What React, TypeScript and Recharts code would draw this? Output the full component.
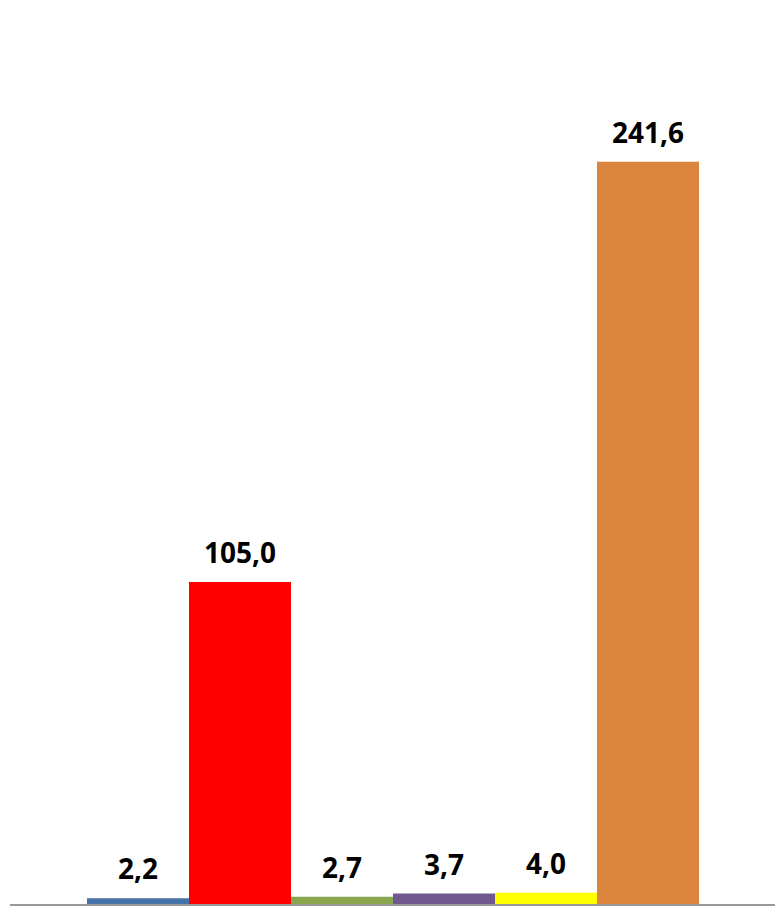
import React from 'react';
import { BarChart, Bar, XAxis, YAxis, Cell, LabelList } from 'recharts';

const categories = ['A', 'B', 'C', 'D', 'E', 'F'];
const values = [2.2, 105.0, 2.7, 3.7, 4.0, 241.6];
const colors = ['#4572A7', '#FF0000', '#89A54E', '#71588F', '#FFFF00', '#DB843D'];

const data = categories.map((c, i) => ({ name: c, value: values[i] }));

const fmt = (v: number) => v.toFixed(1).replace('.', ',');

const renderLabel = (props: any) => {
  const { x, y, width, value } = props;
  return (
    <text
      x={Number(x) + Number(width) / 2}
      y={Number(y) - 19}
      textAnchor="middle"
      fontFamily="'Open Sans', sans-serif"
      fontWeight={700}
      fontSize={28}
      fill="#000"
    >
      {fmt(Number(value))}
    </text>
  );
};

export default function App() {
  return (
    <div style={{ position: 'absolute', left: 0, top: 0, background: '#fff' }}>
      <BarChart
        width={775}
        height={909}
        data={data}
        margin={{ top: 136, right: 0, bottom: 0, left: 10 }}
        barCategoryGap={0}
        barGap={0}
      >
        <XAxis
          dataKey="name"
          padding={{ left: 77, right: 76 }}
          tick={false}
          tickLine={false}
          axisLine={{ stroke: '#9a9a9a', strokeWidth: 2 }}
          height={4}
        />
        <YAxis hide domain={[0, 250]} />
        <Bar dataKey="value" isAnimationActive={false}>
          {data.map((d, i) => (
            <Cell key={d.name} fill={colors[i]} />
          ))}
          <LabelList dataKey="value" content={renderLabel} />
        </Bar>
      </BarChart>
    </div>
  );
}
